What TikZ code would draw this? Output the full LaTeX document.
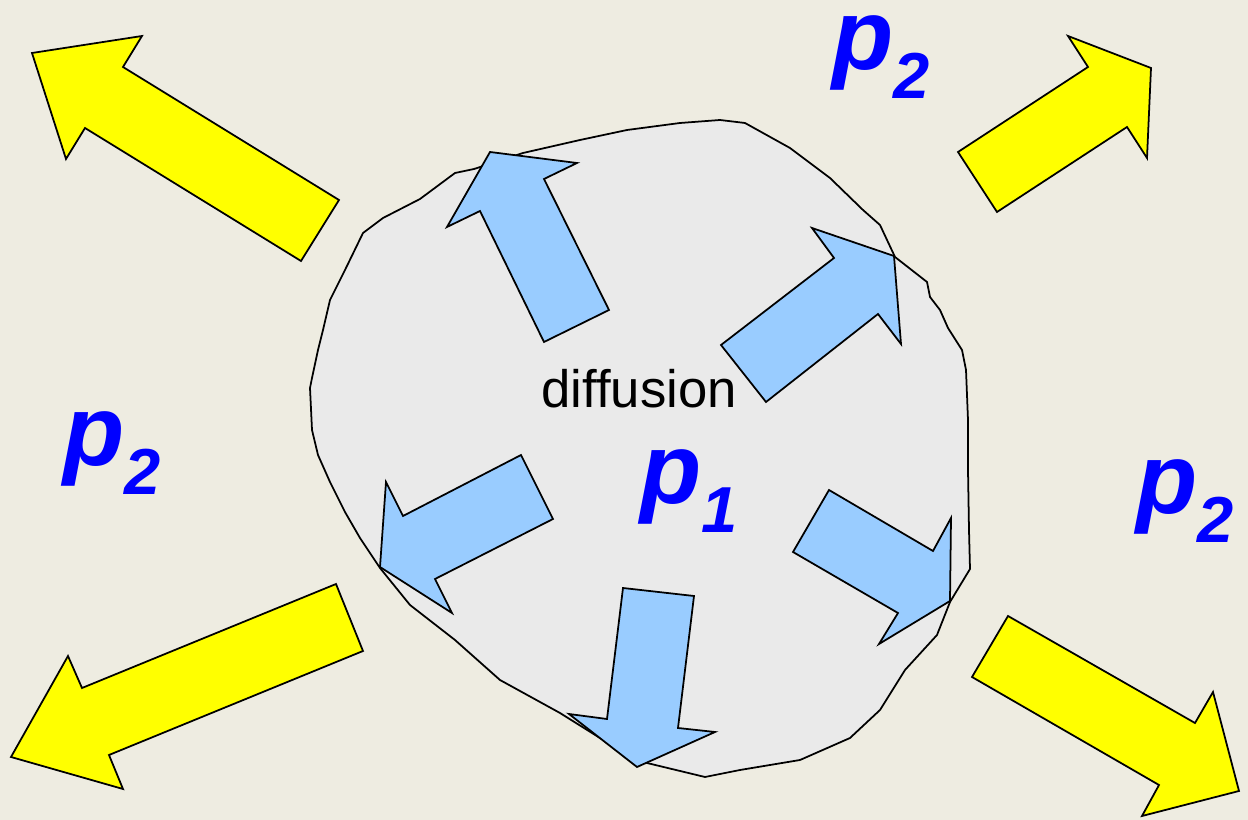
\documentclass[tikz,border=0pt]{standalone}
\usepackage{fontspec}
\setmainfont{Liberation Sans}
\usetikzlibrary{positioning}
\definecolor{bgbeige}{RGB}{238,236,225}
\definecolor{blobgray}{RGB}{234,234,234}
\definecolor{lightblue}{RGB}{153,204,255}
\definecolor{pyellow}{RGB}{255,255,0}
\definecolor{pblue}{RGB}{0,0,255}
\newcommand{\plab}[1]{{\fontsize{57}{57}\selectfont p}\raisebox{-16pt}{\fontsize{37}{37}\selectfont #1}}

\begin{document}
\begin{tikzpicture}[x=0.02cm,y=-0.02cm,
yarrow/.style={draw=black,line width=1pt,fill=pyellow,line join=miter},
barrow/.style={draw=black,line width=1pt,fill=lightblue,line join=miter},
plabel/.style={text=pblue,font=\bfseries\itshape,inner sep=0pt,anchor=base west,text height=30pt,text depth=24pt}]
\fill[bgbeige] (0,0) rectangle (1248,820);
\useasboundingbox (0,0) rectangle (1248,820);
% gas cloud
\draw[fill=blobgray,line width=1pt] (474,169) -- (523,153) -- (580,140) -- (627,130) -- (680,123) -- (720,120)
 -- (745,123) -- (790,148) -- (830,178) -- (863,210) -- (880,225) -- (895,257) -- (927,282) -- (930,297)
 -- (940,310) -- (948,328) -- (962,350) -- (966,370) -- (968,420) -- (968,470) -- (969,530) -- (970,569)
 -- (950,602) -- (937,635) -- (905,670) -- (880,710) -- (850,738) -- (800,760) -- (740,770) -- (705,777)
 -- (647,763) -- (600,738) -- (560,713) -- (500,680) -- (455,640) -- (410,605) -- (380,568) -- (360,538)
 -- (345,512) -- (330,482) -- (318,455) -- (312,430) -- (310,388) -- (312,378) -- (318,350) -- (323,330)
 -- (330,300) -- (345,270) -- (363,233) -- (383,218) -- (420,199) -- (455,173) -- cycle;
% inner arrows
\draw[barrow] (490,152) -- (577,163) -- (544,179) -- (609,310) -- (544,342) -- (480,211) -- (447,227) -- cycle;
\draw[barrow] (721,345) -- (766,402) -- (878,314) -- (901,344) -- (894,256) -- (812,228) -- (834,258) -- cycle;
\draw[barrow] (521,455) -- (553,519) -- (435,579) -- (452,613) -- (380,567) -- (386,482) -- (403,516) -- cycle;
\draw[barrow] (829,490) -- (793,552) -- (898,613) -- (879,644) -- (950,601) -- (951,518) -- (933,551) -- cycle;
\draw[barrow] (623,588) -- (694,596) -- (678,728) -- (715,732) -- (637,767) -- (569,714) -- (607,719) -- cycle;
% outer arrows
\draw[yarrow] (32,53) -- (142,36) -- (123,67) -- (339,200) -- (301,261) -- (85,128) -- (66,159) -- cycle;
\draw[yarrow] (958,152) -- (997,212) -- (1127,127) -- (1147,158) -- (1151,68) -- (1068,36) -- (1088,67) -- cycle;
\draw[yarrow] (336,584) -- (363,651) -- (109,755) -- (123,789) -- (11,757) -- (68,656) -- (82,688) -- cycle;
\draw[yarrow] (1008,616) -- (972,677) -- (1159,785) -- (1142,816) -- (1239,791) -- (1213,692) -- (1195,723) -- cycle;
% labels
\node[font=\fontsize{30}{30}\selectfont,inner sep=0pt,anchor=base west] (diff) at (541,408) {diffusion};
\node[plabel] (pin) at (640,504) {\plab{1}};
\node[plabel] (ptop) at (832,70) {\plab{2}};
\node[plabel] (pleft) at (63,466) {\plab{2}};
\node[plabel] (pright) at (1136,514) {\plab{2}};
\end{tikzpicture}
\end{document}
